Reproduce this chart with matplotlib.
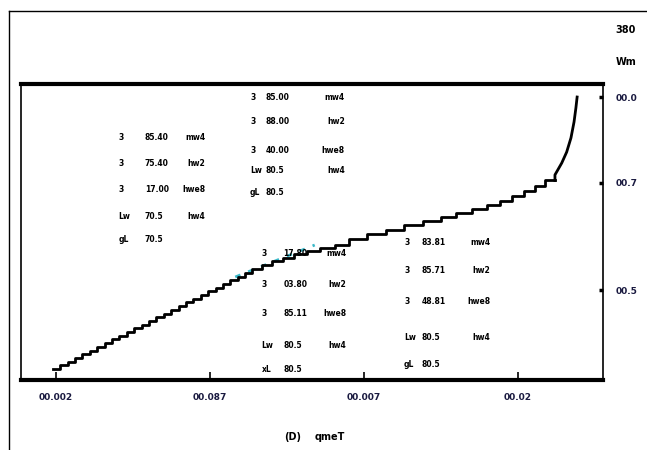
import numpy as np
import matplotlib
matplotlib.use("Agg")
import matplotlib.pyplot as plt
from matplotlib.lines import Line2D

# staircase part of the curve (step start, level)
step_x = [-0.5, 0.7, 1.9, 3.1, 4.3, 5.5, 6.7, 7.9, 9.1, 10.3, 11.5, 12.7, 13.9, 15.1,
          16.3, 17.5, 18.7, 19.9, 21.1, 22.3, 23.5, 24.7, 25.9, 27.1, 28.3, 29.5, 30.7,
          31.9, 33.5, 35.1, 36.9, 38.7, 40.7, 42.9, 45.3,
          47.5, 50.5, 53.5, 56.5, 59.5, 62.5, 65.0, 67.5, 70.0, 72.0, 74.0, 76.0, 77.8, 79.4]
step_y = [3.7, 4.9, 6.2, 7.4, 8.7, 9.9, 11.2, 12.4, 13.7, 14.9, 16.2, 17.4, 18.7, 19.9,
          21.2, 22.4, 23.7, 24.9, 26.2, 27.4, 28.7, 29.9, 31.2, 32.4, 33.7, 34.9, 36.2,
          37.5, 38.8, 40.1, 41.3, 42.5, 43.6, 44.6, 45.6,
          47.8, 49.3, 50.8, 52.2, 53.6, 55.0, 56.4, 57.8, 59.2, 60.6, 62.2, 63.8, 65.6, 67.4]
# smooth end of the curve
tail_x = [81.0, 82.1, 82.9, 83.6, 84.1, 84.4, 84.6]
tail_y = [69.3, 73.3, 77.0, 81.8, 87.2, 91.9, 95.6]
# faint cyan line under the steps
cyan_x = [29.1, 42.0]
cyan_y = [34.8, 45.6]

xtick_pos = [0, 25, 50, 75]
xtick_labels = ["00.002", "00.087", "00.007", "00.02"]
ytick_pos = [95.6, 66.6, 30.4]
ytick_labels = ["00.0", "00.7", "00.5"]

# annotation blocks: column x (first, value, name right edge), row y's and texts
block_cols = [[10.1, 14.4, 24.2], [31.5, 34.0, 46.9], [33.4, 36.9, 47.1], [56.5, 59.4, 70.5]]
block_rows = [[81.8, 73.3, 64.2, 55.4, 47.3],
              [95.6, 87.2, 77.7, 70.9, 63.2],
              [42.6, 32.1, 22.3, 11.5, 3.4],
              [46.3, 37.1, 26.4, 14.5, 5.1]]
block_col1 = [["3", "3", "3", "Lw", "gL"], ["3", "3", "3", "Lw", "gL"],
              ["3", "3", "3", "Lw", "xL"], ["3", "3", "3", "Lw", "gL"]]
block_vals = [["85.40", "75.40", "17.00", "70.5", "70.5"],
              ["85.00", "88.00", "40.00", "80.5", "80.5"],
              ["17.80", "03.80", "85.11", "80.5", "80.5"],
              ["83.81", "85.71", "48.81", "80.5", "80.5"]]
block_names = [["mw4", "hw2", "hwe8", "hw4"], ["mw4", "hw2", "hwe8", "hw4"],
               ["mw4", "hw2", "hwe8", "hw4"], ["mw4", "hw2", "hwe8", "hw4"]]

fig = plt.figure(figsize=(6.47, 4.5), dpi=100)
ax = fig.add_axes([21/647, 70/450, 582/647, 296/450])

sx = step_x + [tail_x[0]]
sy = step_y + [step_y[-1]]
ax.plot(cyan_x, cyan_y, color="#3ab8c8", lw=2.0, ls=(0, (2, 3)), zorder=1)
ax.plot(sx, sy, drawstyle="steps-post", color="black", lw=2.0, zorder=2)
ax.plot([sx[-1]] + tail_x, [sy[-1]] + tail_y, color="black", lw=2.0, zorder=2)

ax.set_xlim(-5.68, 88.8)
ax.set_ylim(0, 100)

for side in ["top", "bottom"]:
    ax.spines[side].set_linewidth(3)
for side in ["left", "right"]:
    ax.spines[side].set_linewidth(1.2)

ax.set_xticks(xtick_pos)
ax.set_xticklabels(xtick_labels, fontsize=6.5, fontweight="bold", color="#1a1a40")
ax.tick_params(axis="x", direction="in", length=6, width=1.2, pad=9)
ax.yaxis.tick_right()
ax.set_yticks(ytick_pos)
ax.set_yticklabels(ytick_labels, fontsize=6.5, fontweight="bold", color="#1a1a40")
ax.tick_params(axis="y", direction="in", length=3, width=2.5, pad=9)

for cols, rows, c1, vals, names in zip(block_cols, block_rows, block_col1, block_vals, block_names):
    for i, y in enumerate(rows):
        ax.text(cols[0], y, c1[i], fontsize=5.5, fontweight="bold", ha="left", va="center")
        ax.text(cols[1], y, vals[i], fontsize=5.5, fontweight="bold", ha="left", va="center")
        if i < len(names):
            ax.text(cols[2], y, names[i], fontsize=5.5, fontweight="bold", ha="right", va="center")

fig.text(293/647, 1 - 437/450, "(D)", fontsize=7, fontweight="bold", ha="center", va="center")
fig.text(330/647, 1 - 437/450, "qmeT", fontsize=7, fontweight="bold", ha="center", va="center")
fig.text(626/647, 1 - 30/450, "380", fontsize=7, fontweight="bold", ha="center", va="center")
fig.text(626/647, 1 - 62/450, "Wm", fontsize=7, fontweight="bold", ha="center", va="center")

# outer frame lines
fig.add_artist(Line2D([9/647, 9/647], [0, 1 - 11/450], color="black", lw=1))
fig.add_artist(Line2D([9/647, 1], [1 - 11/450, 1 - 11/450], color="black", lw=1))

fig.savefig("out.png", dpi=100)
